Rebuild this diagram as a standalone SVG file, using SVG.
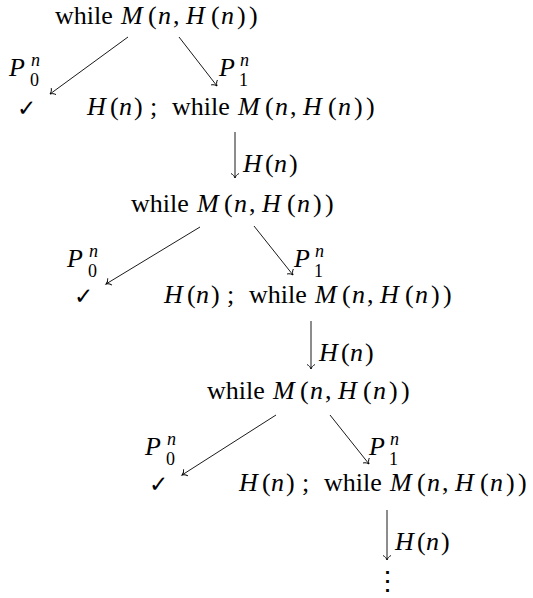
<svg xmlns="http://www.w3.org/2000/svg" width="533" height="598" viewBox="0 0 533 598" font-family="'Liberation Serif', 'Times New Roman', serif">
<style>
  text { font-family: 'Liberation Serif', 'Times New Roman', serif; font-size: 26px; fill: #000; }
  .i { font-style: italic; }
  .s { font-size: 18px; }
  .ck { font-family: 'DejaVu Sans', sans-serif; font-size: 23px; }
  .dots { font-family: 'DejaVu Serif', serif; font-size: 27px; }
  .edge { stroke: #000; stroke-width: 0.9; fill: none; marker-end: url(#to); }
</style>
<defs>
  <marker id="to" markerUnits="userSpaceOnUse" markerWidth="12" markerHeight="12" refX="0" refY="0" viewBox="-6 -6 12 12" orient="auto" overflow="visible">
    <path d="M-4.5,-4 C-3.4,-1.6 -1.2,-0.35 0,0 C-1.2,0.35 -3.4,1.6 -4.5,4" fill="none" stroke="#000" stroke-width="0.9"/>
  </marker>
</defs>

<!-- Level 1 -->
<g id="while1">
  <text y="24"><tspan x="55">while</tspan><tspan class="i" x="121">M</tspan><tspan x="148">(</tspan><tspan class="i" x="158">n</tspan><tspan x="173">,</tspan><tspan class="i" x="186">H</tspan><tspan x="211">(</tspan><tspan class="i" x="221">n</tspan><tspan x="237">)</tspan><tspan x="249">)</tspan></text>
</g>
<g id="check1"><text class="ck" x="17" y="116">✓</text></g>
<g id="body1">
  <text y="115"><tspan class="i" x="87">H</tspan><tspan x="110">(</tspan><tspan class="i" x="119">n</tspan><tspan x="134">)</tspan><tspan x="150">;</tspan><tspan x="172">while</tspan><tspan class="i" x="238">M</tspan><tspan x="265">(</tspan><tspan class="i" x="275">n</tspan><tspan x="290">,</tspan><tspan class="i" x="303">H</tspan><tspan x="328">(</tspan><tspan class="i" x="338">n</tspan><tspan x="354">)</tspan><tspan x="366">)</tspan></text>
</g>

<!-- Level 2 -->
<g id="while2">
  <text y="212"><tspan x="131">while</tspan><tspan class="i" x="197">M</tspan><tspan x="224">(</tspan><tspan class="i" x="234">n</tspan><tspan x="249">,</tspan><tspan class="i" x="262">H</tspan><tspan x="287">(</tspan><tspan class="i" x="297">n</tspan><tspan x="313">)</tspan><tspan x="325">)</tspan></text>
</g>
<g id="check2"><text class="ck" x="74" y="304">✓</text></g>
<g id="body2">
  <text y="303"><tspan class="i" x="164">H</tspan><tspan x="187">(</tspan><tspan class="i" x="196">n</tspan><tspan x="211">)</tspan><tspan x="227">;</tspan><tspan x="249">while</tspan><tspan class="i" x="315">M</tspan><tspan x="342">(</tspan><tspan class="i" x="352">n</tspan><tspan x="367">,</tspan><tspan class="i" x="380">H</tspan><tspan x="405">(</tspan><tspan class="i" x="415">n</tspan><tspan x="431">)</tspan><tspan x="443">)</tspan></text>
</g>

<!-- Level 3 -->
<g id="while3">
  <text y="399"><tspan x="207">while</tspan><tspan class="i" x="273">M</tspan><tspan x="300">(</tspan><tspan class="i" x="310">n</tspan><tspan x="325">,</tspan><tspan class="i" x="338">H</tspan><tspan x="363">(</tspan><tspan class="i" x="373">n</tspan><tspan x="389">)</tspan><tspan x="401">)</tspan></text>
</g>
<g id="check3"><text class="ck" x="149" y="492">✓</text></g>
<g id="body3">
  <text y="491"><tspan class="i" x="239">H</tspan><tspan x="262">(</tspan><tspan class="i" x="271">n</tspan><tspan x="286">)</tspan><tspan x="302">;</tspan><tspan x="324">while</tspan><tspan class="i" x="390">M</tspan><tspan x="417">(</tspan><tspan class="i" x="427">n</tspan><tspan x="442">,</tspan><tspan class="i" x="455">H</tspan><tspan x="480">(</tspan><tspan class="i" x="490">n</tspan><tspan x="506">)</tspan><tspan x="518">)</tspan></text>
</g>

<g id="vdots"><text class="dots" x="387" y="590" text-anchor="middle">⋮</text></g>

<!-- Connectors -->
<g id="connectors">
  <line class="edge" x1="128" y1="37" x2="50" y2="94"/>
  <line class="edge" x1="179" y1="37" x2="217" y2="86"/>
  <line class="edge" x1="235" y1="132" x2="235" y2="178"/>

  <line class="edge" x1="200" y1="227" x2="106" y2="284"/>
  <line class="edge" x1="254" y1="226" x2="293" y2="275"/>
  <line class="edge" x1="311" y1="321" x2="311" y2="369"/>

  <line class="edge" x1="276" y1="415" x2="182" y2="475"/>
  <line class="edge" x1="330" y1="415" x2="369" y2="464"/>
  <line class="edge" x1="387" y1="510" x2="387" y2="560"/>
</g>

<!-- Connector labels -->
<g id="edge-labels">
  <text class="i" x="9" y="76">P</text><text class="s i" x="31" y="66">n</text><text class="s" x="30" y="86">0</text>
  <text class="i" x="219" y="76">P</text><text class="s i" x="240" y="66">n</text><text class="s" x="239" y="86">1</text>
  <text y="172"><tspan class="i" x="243">H</tspan><tspan x="265">(</tspan><tspan class="i" x="274">n</tspan><tspan x="289">)</tspan></text>

  <text class="i" x="67" y="267">P</text><text class="s i" x="89" y="257">n</text><text class="s" x="88" y="277">0</text>
  <text class="i" x="294" y="267">P</text><text class="s i" x="315" y="257">n</text><text class="s" x="314" y="277">1</text>
  <text y="361"><tspan class="i" x="319">H</tspan><tspan x="341">(</tspan><tspan class="i" x="350">n</tspan><tspan x="365">)</tspan></text>

  <text class="i" x="145" y="455">P</text><text class="s i" x="167" y="445">n</text><text class="s" x="166" y="465">0</text>
  <text class="i" x="369" y="455">P</text><text class="s i" x="390" y="445">n</text><text class="s" x="389" y="465">1</text>
  <text y="550"><tspan class="i" x="395">H</tspan><tspan x="417">(</tspan><tspan class="i" x="426">n</tspan><tspan x="441">)</tspan></text>
</g>
</svg>
